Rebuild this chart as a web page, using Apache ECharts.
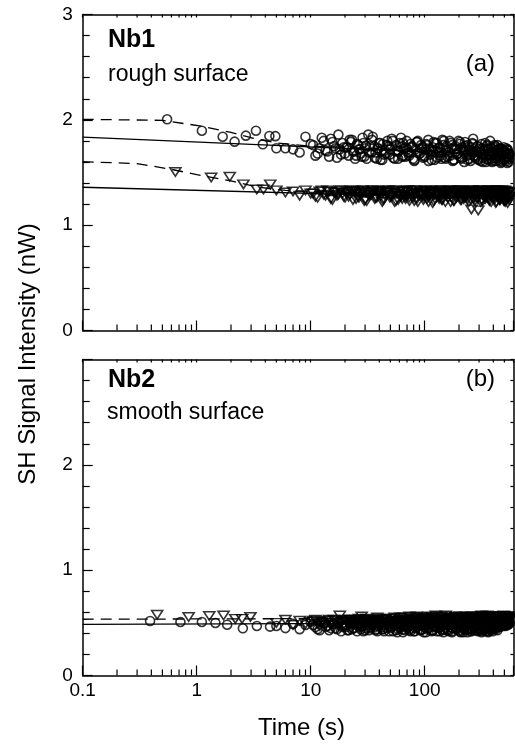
<!DOCTYPE html>
<html>
<head>
<meta charset="utf-8">
<script src="https://cdn.jsdelivr.net/npm/echarts@6/dist/echarts.min.js"></script>
<style>
html,body{margin:0;padding:0;background:#fff;}
#chart{width:515px;height:746px;}
</style>
</head>
<body>
<div id="chart"></div>
<script>
// ---------- data ----------
// Shared time points (s) for the dense part of each record
const tDense = [5,6,7,8,9,10,11,12,13,14,15,16,17,18,19,20,21,22,
  24,26,28,30,32,34,36,38,40, 42,44,
  47,50,53,56,59,62,65,68,71, 75,79,83,87,91,95,
  100,105,110,115,120,125, 131,137,143,149,155, 162,169,176,183,190,
  198,206,214,222,230, 239,248,257,266,275,
  285,295,305,315,325,335,345,355,365,375,385,395,405,415,425,435,445,455,465,475,485,495,505,515,525,535,545,555];
const tDense2 = [10.5,11.5,12.5,13.5,14.5,15.5,16.5,17.5,18.5,19.5,
  23,25,27,29,31,33,35,37,39,41,43,
  45.5,48.5,51.5,54.5,57.5,60.5,63.5,66.5,69.5, 73,77,81,85,89,93,
  97.5,102.5,107.5,112.5,117.5,122.5, 128,134,140,146,152, 158.5,165.5,172.5,179.5,186.5,
  194,202,210,218,226, 234.5,243.5,252.5,261.5,270.5,
  280,290,300,310,320,330,340,350,360,370,380,390,400,410,420,430,440,450,460,470,480,490,500,510,520,530,540,550];
const tDense3 = [20.5,21.5,22.5,23.5,24.5,25.5,26.5,27.5,28.5,29.5,30.5,
  32.5,34.5,36.5,38.5,40.5,42.5,44.5,46.5,
  49.5,52.5,55.5,58.5,61.5,64.5,67.5,70.5,73.5, 77.5,81.5,85.5,89.5,93.5,
  98,103,108,113,118,123, 129,135,141,147,153, 160,167,174,181,188,
  196,204,212,220,228, 237,246,255,264,273,
  283,293,303,313,323,333,343,353,363,373,383,393,403,413,423,433,443,453,463,473,483,493,503,513,523,533,543,553];

// Panel (a) Nb1, rough surface — circles
const aCircEarlyT = [0.55,1.11,1.69,2.15,2.70,3.31,3.80,4.34,4.9];
const aCircEarlyY = [2.005,1.897,1.840,1.793,1.850,1.897,1.768,1.847,1.845];
const aCircDenseY = [1.73,1.73,1.72,1.69,1.84,1.77,1.66,1.73,1.80,1.70,1.82,1.75,1.64,1.72,1.78,1.68,1.74,1.81,
  1.70,1.76,1.65,1.73,1.86,1.69,1.75,1.63,1.78, 1.71,1.67,
  1.80,1.72,1.64,1.76,1.70,1.83,1.66,1.74,1.69, 1.77,1.63,1.72,1.80,1.68,1.74,
  1.65,1.76,1.71,1.62,1.79,1.70, 1.73,1.66,1.81,1.64,1.75, 1.69,1.78,1.61,1.72,1.67,
  1.80,1.65,1.74,1.60,1.70, 1.76,1.63,1.71,1.82,1.66,
  1.73,1.62,1.69,1.77,1.64,1.71,1.60,1.75,1.67,1.80,1.63,1.70,1.74,1.61,1.68,1.76,1.65,1.72,1.59,1.70,1.66,1.74,1.62,1.69,1.64,1.71,1.60,1.67];
const aCircDense2Y = [1.76,1.68,1.83,1.71,1.65,1.79,1.73,1.86,1.67,1.74,
  1.81,1.66,1.72,1.78,1.63,1.75,1.84,1.69,1.73,1.62,1.77,
  1.68,1.75,1.82,1.63,1.71,1.78,1.65,1.73,1.80, 1.66,1.74,1.61,1.79,1.70,1.76,
  1.64,1.72,1.81,1.67,1.74,1.62, 1.78,1.69,1.63,1.76,1.71, 1.65,1.80,1.73,1.62,1.75,
  1.68,1.77,1.63,1.72,1.79, 1.66,1.74,1.61,1.78,1.69,
  1.64,1.75,1.70,1.61,1.73,1.67,1.78,1.63,1.72,1.66,1.74,1.60,1.69,1.76,1.63,1.71,1.65,1.73,1.61,1.68,1.72,1.62,1.70,1.65,1.73,1.59,1.68,1.63];
const aCircDense3Y = [1.74,1.66,1.79,1.70,1.63,1.77,1.72,1.68,1.83,1.65,1.75,
  1.69,1.81,1.64,1.73,1.78,1.62,1.71,1.76,
  1.67,1.80,1.70,1.63,1.74,1.78,1.65,1.72,1.69, 1.75,1.62,1.79,1.68,1.73,
  1.66,1.77,1.61,1.72,1.70,1.78, 1.64,1.74,1.69,1.80,1.63, 1.71,1.66,1.76,1.62,1.73,
  1.68,1.79,1.64,1.70,1.75, 1.62,1.72,1.67,1.77,1.65,
  1.70,1.63,1.74,1.67,1.60,1.72,1.66,1.76,1.62,1.69,1.73,1.61,1.67,1.75,1.64,1.70,1.62,1.68,1.73,1.60,1.66,1.71,1.63,1.69,1.61,1.72,1.65,1.68];
// Panel (a) — triangles
const aTriEarlyT = [0.65,1.34,1.95,2.57,3.37,3.85,4.42];
const aTriEarlyY = [1.505,1.453,1.46,1.387,1.339,1.339,1.387];
const aTriDenseY = [1.33,1.31,1.32,1.28,1.33,1.30,1.27,1.32,1.29,1.33,1.25,1.31,1.28,1.33,1.30,1.26,1.32,1.29,
  1.33,1.27,1.31,1.24,1.32,1.29,1.33,1.26,1.30, 1.32,1.25,
  1.31,1.28,1.33,1.23,1.30,1.27,1.32,1.25,1.29, 1.33,1.26,1.30,1.22,1.31,1.28,
  1.33,1.25,1.29,1.32,1.23,1.30, 1.27,1.33,1.24,1.31,1.28, 1.32,1.22,1.29,1.33,1.26,
  1.30,1.24,1.33,1.27,1.31, 1.25,1.32,1.15,1.33,1.23,
  1.30,1.14,1.33,1.24,1.31,1.27,1.29,1.32,1.25,1.28,1.30,1.33,1.26,1.31,1.22,1.33,1.28,1.24,1.32,1.27,1.30,1.23,1.33,1.26,1.29,1.21,1.31,1.27];
const aTriDense2Y = [1.30,1.26,1.33,1.28,1.32,1.24,1.31,1.29,1.33,1.27,
  1.32,1.25,1.30,1.33,1.23,1.29,1.31,1.26,1.33,1.28,1.24,
  1.31,1.33,1.27,1.22,1.30,1.32,1.25,1.29,1.33, 1.26,1.31,1.23,1.33,1.28,1.30,
  1.24,1.32,1.27,1.33,1.21,1.29, 1.31,1.25,1.33,1.28,1.22, 1.30,1.33,1.26,1.23,1.31,
  1.28,1.33,1.24,1.30,1.26, 1.32,1.22,1.29,1.33,1.25,
  1.31,1.26,1.33,1.22,1.29,1.32,1.25,1.30,1.33,1.23,1.28,1.31,1.26,1.33,1.21,1.30,1.27,1.32,1.24,1.29,1.33,1.25,1.31,1.22,1.28,1.32,1.26,1.24];
const aTriDense3Y = [1.31,1.27,1.33,1.24,1.30,1.32,1.26,1.29,1.33,1.23,1.31,
  1.28,1.33,1.25,1.30,1.32,1.22,1.29,1.33,
  1.26,1.31,1.33,1.24,1.28,1.32,1.27,1.33,1.23, 1.30,1.33,1.25,1.29,1.32,
  1.27,1.33,1.22,1.30,1.31,1.25, 1.33,1.28,1.24,1.32,1.29, 1.26,1.33,1.30,1.23,1.31,
  1.33,1.27,1.32,1.25,1.30, 1.28,1.33,1.24,1.31,1.27,
  1.32,1.25,1.30,1.33,1.23,1.29,1.31,1.26,1.33,1.28,1.22,1.30,1.32,1.25,1.33,1.27,1.29,1.24,1.31,1.33,1.26,1.30,1.23,1.32,1.28,1.25,1.31,1.27];
// Panel (a) fit curves
const aCircFitT = [0.1,600];          const aCircFitY = [1.835,1.66];
const aTriFitT  = [0.1,600];          const aTriFitY  = [1.36,1.249];
const aCircDashT = [0.1,0.5,1.1,2,3,5,10,100,600];
const aCircDashY = [2.005,1.995,1.94,1.88,1.83,1.78,1.75,1.71,1.68];
const aTriDashT  = [0.1,0.3,0.6,1,2,3.5,6,20,600];
const aTriDashY  = [1.603,1.585,1.53,1.48,1.42,1.36,1.33,1.31,1.27];

// Panel (b) Nb2, smooth surface — circles
const bCircEarlyT = [0.39,0.72,1.11,1.46,1.85,2.54,3.37,4.4];
const bCircEarlyY = [0.518,0.508,0.508,0.499,0.482,0.448,0.47,0.464];
const bCircDenseY = [0.47,0.45,0.49,0.44,0.48,0.51,0.46,0.43,0.50,0.47,0.45,0.49,0.44,0.52,0.46,0.48,0.43,0.50,
  0.45,0.49,0.47,0.43,0.51,0.46,0.48,0.44,0.50, 0.46,0.42,
  0.49,0.45,0.51,0.43,0.47,0.50,0.44,0.48,0.46, 0.42,0.50,0.45,0.48,0.43,0.51,
  0.46,0.44,0.49,0.42,0.47,0.51, 0.45,0.48,0.43,0.50,0.46, 0.42,0.49,0.45,0.52,0.44,
  0.47,0.41,0.50,0.46,0.43, 0.49,0.44,0.42,0.48,0.45,
  0.51,0.43,0.47,0.41,0.49,0.45,0.42,0.50,0.46,0.44,0.48,0.42,0.47,0.45,0.50,0.43,0.48,0.46,0.49,0.47,0.51,0.48,0.50,0.49,0.52,0.48,0.51,0.50];
const bCircDense2Y = [0.48,0.44,0.51,0.46,0.43,0.49,0.45,0.50,0.42,0.47,
  0.44,0.50,0.46,0.42,0.48,0.45,0.51,0.43,0.47,0.49,0.44,
  0.50,0.42,0.46,0.48,0.41,0.45,0.51,0.43,0.47, 0.44,0.49,0.42,0.46,0.50,0.43,
  0.48,0.41,0.45,0.50,0.43,0.47, 0.42,0.49,0.46,0.41,0.48, 0.44,0.50,0.42,0.47,0.45,
  0.49,0.43,0.46,0.41,0.48, 0.44,0.50,0.42,0.47,0.45,
  0.43,0.48,0.45,0.50,0.42,0.47,0.44,0.49,0.41,0.46,0.43,0.48,0.45,0.50,0.44,0.47,0.49,0.46,0.50,0.48,0.52,0.47,0.49,0.51,0.48,0.50,0.52,0.49];
const bCircDense3Y = [0.46,0.43,0.50,0.45,0.48,0.42,0.49,0.44,0.47,0.51,0.45,
  0.43,0.49,0.46,0.42,0.50,0.44,0.48,0.45,
  0.47,0.42,0.50,0.44,0.46,0.41,0.49,0.45,0.43, 0.48,0.42,0.46,0.50,0.44,
  0.41,0.47,0.45,0.49,0.43,0.46, 0.50,0.42,0.47,0.44,0.48, 0.43,0.46,0.41,0.49,0.45,
  0.47,0.42,0.50,0.44,0.46, 0.41,0.48,0.45,0.43,0.49,
  0.46,0.42,0.48,0.44,0.50,0.43,0.47,0.45,0.42,0.49,0.46,0.44,0.48,0.45,0.47,0.50,0.46,0.49,0.47,0.51,0.48,0.50,0.49,0.47,0.51,0.49,0.52,0.50];
// Panel (b) — triangles
const bTriEarlyT = [0.45,0.85,1.29,1.72,2.18,2.5,2.96];
const bTriEarlyY = [0.577,0.555,0.565,0.57,0.538,0.538,0.556];
const bTriDenseY = [0.50,0.53,0.48,0.52,0.49,0.51,0.53,0.47,0.50,0.52,0.48,0.53,0.50,0.57,0.52,0.47,0.51,0.53,
  0.49,0.52,0.56,0.53,0.50,0.51,0.47,0.52,0.54, 0.49,0.53,
  0.51,0.48,0.54,0.50,0.52,0.49,0.55,0.51,0.48, 0.53,0.50,0.55,0.49,0.52,0.54,
  0.50,0.53,0.48,0.55,0.51,0.57, 0.52,0.49,0.54,0.50,0.53, 0.55,0.49,0.52,0.54,0.50,
  0.53,0.48,0.55,0.51,0.56, 0.50,0.53,0.49,0.54,0.52,
  0.55,0.50,0.53,0.57,0.51,0.54,0.49,0.52,0.55,0.50,0.53,0.51,0.54,0.56,0.52,0.55,0.51,0.53,0.55,0.52,0.56,0.53,0.55,0.52,0.56,0.54,0.55,0.53];
const bTriDense2Y = [0.52,0.49,0.51,0.48,0.53,0.50,0.52,0.47,0.51,0.53,
  0.50,0.53,0.48,0.51,0.54,0.49,0.52,0.50,0.53,0.48,0.51,
  0.53,0.49,0.52,0.55,0.50,0.53,0.48,0.52,0.54, 0.50,0.53,0.49,0.56,0.51,0.53,
  0.49,0.54,0.51,0.52,0.55,0.50, 0.53,0.50,0.56,0.52,0.49, 0.51,0.54,0.50,0.53,0.56,
  0.49,0.52,0.54,0.50,0.53, 0.55,0.51,0.53,0.56,0.50,
  0.52,0.55,0.50,0.53,0.56,0.51,0.54,0.52,0.55,0.50,0.53,0.56,0.51,0.54,0.52,0.55,0.53,0.56,0.52,0.54,0.55,0.53,0.56,0.52,0.55,0.54,0.56,0.53];
const bTriDense3Y = [0.51,0.48,0.53,0.50,0.52,0.49,0.54,0.51,0.48,0.52,0.50,
  0.53,0.49,0.52,0.55,0.50,0.53,0.48,0.51,
  0.54,0.50,0.52,0.49,0.55,0.51,0.53,0.50,0.56, 0.52,0.49,0.54,0.51,0.55,
  0.53,0.50,0.56,0.52,0.49,0.54, 0.51,0.55,0.52,0.50,0.57, 0.53,0.49,0.55,0.52,0.54,
  0.50,0.56,0.53,0.51,0.55, 0.52,0.54,0.50,0.56,0.53,
  0.54,0.51,0.56,0.53,0.50,0.55,0.52,0.57,0.53,0.51,0.55,0.52,0.54,0.56,0.53,0.55,0.52,0.56,0.54,0.53,0.55,0.57,0.53,0.55,0.54,0.56,0.53,0.55];
// Panel (b) fit curves
const bCircFitT = [0.1,600];  const bCircFitY = [0.486,0.50];
const bTriDashT = [0.1,600];  const bTriDashY = [0.534,0.545];

// Axis ticks / labels
const xTickValues = [0.1,1,10,100];
const xTickLabels = ['0.1','1','10','100'];
const xMinorTicks = [0.2,0.3,0.4,0.5,0.6,0.7,0.8,0.9,2,3,4,5,6,7,8,9,20,30,40,50,60,70,80,90,200,300,400,500];
const yTickValuesA = [0,1,2,3];
const yTickValuesB = [0,1,2];

// ---------- helpers ----------
const zip = (t, y) => t.map((v, i) => [v, y[i]]);
const FONT = '"Liberation Sans", Arial, sans-serif';
const X_MIN = 0.1, X_MAX = 600, Y_MIN = 0, Y_MAX = 3;

function xAxisCfg(gridIndex, pos, showLabels) {
  return {
    type: 'log', logBase: 10, gridIndex: gridIndex, position: pos,
    min: X_MIN, max: X_MAX,
    axisLine: { show: true, onZero: false, lineStyle: { color: '#000', width: 1.5 } },
    axisTick: { show: true, inside: true, length: pos === 'bottom' ? 10 : 3, lineStyle: { color: '#000', width: 1.2 } },
    minorTick: { show: false },
    splitLine: { show: false },
    axisLabel: {
      show: showLabels, margin: 6, color: '#000', fontSize: 19, fontFamily: FONT,
      showMinLabel: true, showMaxLabel: true,
      formatter: function (v) {
        for (let i = 0; i < xTickValues.length; i++) {
          if (Math.abs(Math.log10(v) - Math.log10(xTickValues[i])) < 1e-6) return xTickLabels[i];
        }
        return '';
      }
    }
  };
}
function yAxisCfg(gridIndex, pos, labelVals) {
  const left = pos === 'left';
  return {
    type: 'value', gridIndex: gridIndex, position: pos,
    min: Y_MIN, max: Y_MAX, interval: 1,
    axisLine: { show: true, onZero: false, lineStyle: { color: '#000', width: 1.5 } },
    axisTick: { show: true, inside: true, length: left ? 10 : 3, lineStyle: { color: '#000', width: 1.2 } },
    minorTick: { show: true, splitNumber: 5, length: left ? 7 : 3, lineStyle: { color: '#000', width: 1.2 } },
    splitLine: { show: false },
    axisLabel: {
      show: left, margin: 10, color: '#000', fontSize: 19, fontFamily: FONT,
      formatter: function (v) { return labelVals && labelVals.indexOf(v) >= 0 ? String(v) : ''; }
    }
  };
}
function minorTickSeries(xi, yi) {
  return {
    type: 'custom', xAxisIndex: xi, yAxisIndex: yi, silent: true, clip: false, z: 5,
    data: xMinorTicks.map(v => [v, 0]),
    renderItem: function (params, api) {
      const v = api.value(0);
      const b = api.coord([v, Y_MIN]);
      const t = api.coord([v, Y_MAX]);
      const st = { stroke: '#000', lineWidth: 1.2 };
      return { type: 'group', children: [
        { type: 'line', shape: { x1: b[0], y1: b[1], x2: b[0], y2: b[1] - 6 }, style: st },
        { type: 'line', shape: { x1: t[0], y1: t[1], x2: t[0], y2: t[1] + 3 }, style: st }
      ]};
    }
  };
}
const markStyle = { color: 'rgba(0,0,0,0)', borderColor: '#000', borderWidth: 1.6 };
function circleSeries(xi, yi, data) {
  return { type: 'scatter', xAxisIndex: xi, yAxisIndex: yi, data: data, symbol: 'circle', symbolSize: 9,
    itemStyle: markStyle, silent: true, z: 3, large: false };
}
function triSeries(xi, yi, data) {
  return { type: 'scatter', xAxisIndex: xi, yAxisIndex: yi, data: data, symbol: 'triangle', symbolRotate: 180,
    symbolSize: [11, 8.5], itemStyle: markStyle, silent: true, z: 3, large: false };
}
function lineSeries(xi, yi, data, dashed) {
  return { type: 'line', xAxisIndex: xi, yAxisIndex: yi, data: data, showSymbol: false, symbol: 'none',
    lineStyle: { color: '#000', width: 1.3, type: dashed ? [11, 7] : 'solid' }, silent: true, z: 4, animation: false };
}
function dense(early, yd1, yd2, yd3) {
  return early.concat(zip(tDense, yd1), zip(tDense2, yd2), zip(tDense3, yd3));
}

const chart = echarts.init(document.getElementById('chart'), null, { renderer: 'canvas' });
const gridA = { left: 82.7, top: 14.5, width: 430.7, height: 316, containLabel: false, outerBoundsMode: 'none' };
const gridB = { left: 82.7, top: 359.5, width: 430.7, height: 316, containLabel: false, outerBoundsMode: 'none' };

const option = {
  animation: false,
  backgroundColor: '#fff',
  grid: [gridA, gridB],
  xAxis: [xAxisCfg(0, 'bottom', false), xAxisCfg(0, 'top', false), xAxisCfg(1, 'bottom', true), xAxisCfg(1, 'top', false)],
  yAxis: [yAxisCfg(0, 'left', yTickValuesA), yAxisCfg(0, 'right', null), yAxisCfg(1, 'left', yTickValuesB), yAxisCfg(1, 'right', null)],
  series: [
    minorTickSeries(0, 0),
    minorTickSeries(2, 2),
    lineSeries(0, 0, zip(aCircFitT, aCircFitY), false),
    lineSeries(0, 0, zip(aTriFitT, aTriFitY), false),
    lineSeries(0, 0, zip(aCircDashT, aCircDashY), true),
    lineSeries(0, 0, zip(aTriDashT, aTriDashY), true),
    circleSeries(0, 0, dense(zip(aCircEarlyT, aCircEarlyY), aCircDenseY, aCircDense2Y, aCircDense3Y)),
    triSeries(0, 0, dense(zip(aTriEarlyT, aTriEarlyY), aTriDenseY, aTriDense2Y, aTriDense3Y)),
    lineSeries(2, 2, zip(bCircFitT, bCircFitY), false),
    lineSeries(2, 2, zip(bTriDashT, bTriDashY), true),
    circleSeries(2, 2, dense(zip(bCircEarlyT, bCircEarlyY), bCircDenseY, bCircDense2Y, bCircDense3Y)),
    triSeries(2, 2, dense(zip(bTriEarlyT, bTriEarlyY), bTriDenseY, bTriDense2Y, bTriDense3Y))
  ],
  graphic: [
    { type: 'text', x: 108, y: 40.5, style: { text: 'Nb1', font: 'bold 25px ' + FONT, fill: '#000', textAlign: 'left', textVerticalAlign: 'middle' } },
    { type: 'text', x: 108, y: 74.5, style: { text: 'rough surface', font: '23px ' + FONT, fill: '#000', textAlign: 'left', textVerticalAlign: 'middle' } },
    { type: 'text', x: 495, y: 64.6, style: { text: '(a)', font: '24px ' + FONT, fill: '#000', textAlign: 'right', textVerticalAlign: 'middle' } },
    { type: 'text', x: 108, y: 380.5, style: { text: 'Nb2', font: 'bold 25px ' + FONT, fill: '#000', textAlign: 'left', textVerticalAlign: 'middle' } },
    { type: 'text', x: 107, y: 412.9, style: { text: 'smooth surface', font: '23px ' + FONT, fill: '#000', textAlign: 'left', textVerticalAlign: 'middle' } },
    { type: 'text', x: 495, y: 379.6, style: { text: '(b)', font: '24px ' + FONT, fill: '#000', textAlign: 'right', textVerticalAlign: 'middle' } },
    { type: 'text', x: 301.5, y: 728, style: { text: 'Time (s)', font: '24px ' + FONT, fill: '#000', textAlign: 'center', textVerticalAlign: 'middle' } },
    { type: 'text', x: 28.6, y: 354, rotation: Math.PI / 2, style: { text: 'SH Signal Intensity (nW)', font: '24px ' + FONT, fill: '#000', textAlign: 'center', textVerticalAlign: 'middle' } }
  ]
};
chart.setOption(option);
</script>
</body>
</html>
